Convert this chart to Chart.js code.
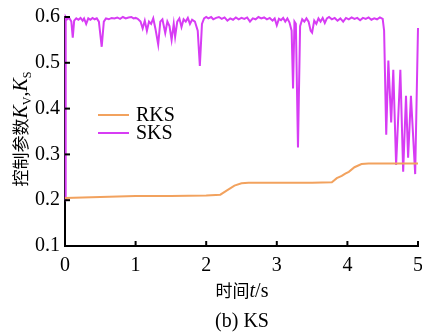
<!DOCTYPE html>
<html>
<head>
<meta charset="utf-8">
<script src="https://cdn.jsdelivr.net/npm/chart.js@4"></script>
<style>
  html, body { margin: 0; padding: 0; background: #fff; overflow: hidden; }
  #wrap { width: 432px; height: 332px; }
</style>
</head>
<body>
<div id="wrap"><canvas id="myChart"></canvas></div>
<script>
// values
const xTicks = [0, 1, 2, 3, 4, 5];
const yTicks = [0.1, 0.2, 0.3, 0.4, 0.5, 0.6];

const rksTime = [0, 0.5, 1, 1.5, 2, 2.2, 2.3, 2.4, 2.5, 2.6, 3.0, 3.5, 3.78, 3.85, 3.92, 3.97, 4.02, 4.1, 4.2, 4.3, 5.0];
const rksVal  = [0.205, 0.207, 0.209, 0.209, 0.21, 0.212, 0.222, 0.232, 0.237, 0.238, 0.238, 0.238, 0.239, 0.248, 0.253, 0.258, 0.262, 0.272, 0.279, 0.28, 0.28];

const sksTime = [
  0, 0.01, 0.03, 0.06, 0.09, 0.11, 0.13, 0.16, 0.19, 0.22, 0.25, 0.27, 0.3, 0.33, 0.36, 0.39, 0.42, 0.45, 0.48, 0.52,
  0.55, 0.58, 0.62, 0.66, 0.7, 0.74, 0.78, 0.82, 0.86, 0.9, 0.94, 0.97, 1.0,
  1.03, 1.07, 1.1, 1.13, 1.16, 1.19, 1.22, 1.25, 1.28, 1.32, 1.35, 1.38, 1.42, 1.45, 1.48, 1.51, 1.54, 1.56, 1.59,
  1.62, 1.65, 1.68, 1.71, 1.74, 1.77, 1.8, 1.84, 1.88, 1.91, 1.94, 1.97, 2.0,
  2.03, 2.07, 2.1, 2.14, 2.18, 2.22, 2.26, 2.3, 2.34, 2.38, 2.42, 2.46, 2.5, 2.54, 2.58, 2.62, 2.66, 2.7, 2.74,
  2.78, 2.82, 2.86, 2.9, 2.94, 2.97, 3.0, 3.03,
  3.06, 3.09, 3.12, 3.15, 3.18, 3.21, 3.23, 3.25, 3.27, 3.3, 3.33, 3.36, 3.39, 3.42, 3.45, 3.48, 3.5, 3.53, 3.56,
  3.59, 3.62, 3.65, 3.68, 3.71, 3.74, 3.78, 3.82, 3.86, 3.9, 3.94, 3.98, 4.02, 4.06, 4.1, 4.14, 4.18, 4.22, 4.26,
  4.3, 4.34, 4.38, 4.42, 4.46, 4.5, 4.52, 4.55, 4.58, 4.62, 4.65, 4.69, 4.75, 4.79, 4.83, 4.86, 4.9, 4.96, 5.0
];
const sksVal = [
  0.2, 0.6, 0.595, 0.598, 0.59, 0.555, 0.592, 0.597, 0.594, 0.598, 0.592, 0.597, 0.585, 0.597, 0.594, 0.598, 0.595, 0.597, 0.59, 0.535,
  0.59, 0.597, 0.595, 0.598, 0.597, 0.599, 0.596, 0.6, 0.597, 0.599, 0.6, 0.597, 0.598,
  0.596, 0.59, 0.575, 0.592, 0.57, 0.59, 0.585, 0.597, 0.575, 0.54, 0.59, 0.595, 0.565, 0.59, 0.58, 0.55, 0.585, 0.557, 0.59,
  0.597, 0.578, 0.595, 0.59, 0.598, 0.585, 0.594, 0.59, 0.57, 0.493, 0.585, 0.597, 0.6,
  0.597, 0.6, 0.595, 0.598, 0.6, 0.596, 0.599, 0.592, 0.597, 0.594, 0.599, 0.595, 0.598, 0.596, 0.599, 0.59, 0.597, 0.595, 0.6,
  0.597, 0.599, 0.595, 0.598, 0.592, 0.597, 0.582, 0.596,
  0.593, 0.598, 0.59, 0.597, 0.588, 0.57, 0.444, 0.59, 0.585, 0.315, 0.58, 0.595, 0.59, 0.597, 0.59, 0.57, 0.566, 0.592, 0.585,
  0.597, 0.59, 0.598, 0.587, 0.597, 0.6, 0.595, 0.598, 0.592, 0.597, 0.59, 0.598, 0.595, 0.599, 0.596, 0.598, 0.593, 0.598, 0.596,
  0.599, 0.594, 0.597, 0.595, 0.599, 0.596, 0.57, 0.343, 0.505, 0.37, 0.485, 0.277, 0.485, 0.262, 0.428, 0.293, 0.428, 0.257, 0.576
];

const serif = '"Liberation Serif", "Times New Roman", serif';
const cjk = '"Noto Sans CJK SC", sans-serif';

function pairs(t, v) {
  return t.map((x, i) => ({ x: x, y: v[i] }));
}

// draws a run of text pieces with their own fonts, centred on (0,0) of the current transform
function drawRich(ctx, parts, baseline) {
  let total = 0;
  parts.forEach(p => { ctx.font = p.font; total += ctx.measureText(p.text).width; });
  let x = -total / 2;
  parts.forEach(p => {
    ctx.font = p.font;
    ctx.fillText(p.text, x, baseline + (p.dy || 0));
    x += ctx.measureText(p.text).width;
  });
}

const extras = {
  id: 'extras',
  afterDraw(chart) {
    const ctx = chart.ctx;
    const xs = chart.scales.x, ys = chart.scales.y;
    ctx.save();
    // inward ticks
    ctx.strokeStyle = '#000';
    ctx.lineWidth = 2;
    xTicks.forEach(v => {
      const px = xs.getPixelForValue(v);
      ctx.beginPath(); ctx.moveTo(px, ys.bottom); ctx.lineTo(px, ys.bottom - 5); ctx.stroke();
    });
    yTicks.forEach(v => {
      const py = ys.getPixelForValue(v);
      ctx.beginPath(); ctx.moveTo(xs.left, py); ctx.lineTo(xs.left + 5, py); ctx.stroke();
    });

    // legend inside the plot
    ctx.fillStyle = '#000';
    ctx.textBaseline = 'middle';
    chart.data.datasets.forEach((ds, i) => {
      const y = 115 + i * 18;
      ctx.strokeStyle = ds.borderColor;
      ctx.lineWidth = 2;
      ctx.beginPath(); ctx.moveTo(98, y); ctx.lineTo(129, y); ctx.stroke();
      ctx.font = '20px ' + serif;
      ctx.fillText(ds.label, 136, y + 1);
    });

    // axis titles and caption
    ctx.textBaseline = 'alphabetic';
    ctx.save();
    ctx.translate(242, 0);
    drawRich(ctx, [
      { text: '时间', font: '17px ' + cjk },
      { text: 't', font: 'italic 20px ' + serif },
      { text: '/s', font: '20px ' + serif }
    ], 297);
    drawRich(ctx, [{ text: '(b) KS', font: '20px ' + serif }], 327);
    ctx.restore();

    ctx.save();
    ctx.translate(27, 129);
    ctx.rotate(-Math.PI / 2);
    drawRich(ctx, [
      { text: '控制参数', font: '17px ' + cjk },
      { text: 'K', font: 'italic 20px ' + serif },
      { text: 'V', font: '12px ' + serif, dy: 4 },
      { text: ',', font: '20px ' + serif },
      { text: 'K', font: 'italic 20px ' + serif },
      { text: 'S', font: '12px ' + serif, dy: 4 }
    ], 0);
    ctx.restore();
    ctx.restore();
  }
};

const ctx1 = document.getElementById('myChart');
new Chart(ctx1, {
  type: 'line',
  data: {
    datasets: [
      {
        label: 'RKS',
        data: pairs(rksTime, rksVal),
        borderColor: '#f2a25e',
        borderWidth: 2,
        pointRadius: 0,
        fill: false,
        clip: false
      },
      {
        label: 'SKS',
        data: pairs(sksTime, sksVal),
        borderColor: '#d73cf4',
        borderWidth: 2,
        pointRadius: 0,
        fill: false,
        clip: false
      }
    ]
  },
  options: {
    animation: false,
    responsive: true,
    maintainAspectRatio: false,
    layout: { padding: { top: 12, right: 14, left: 0, bottom: 0 } },
    plugins: { legend: { display: false }, tooltip: { enabled: false } },
    scales: {
      x: {
        type: 'linear',
        min: 0, max: 5,
        afterBuildTicks: s => { s.ticks = xTicks.map(v => ({ value: v })); },
        afterFit: s => { s.height = 86; },
        grid: { drawOnChartArea: false, drawTicks: false },
        border: { color: '#000', width: 2 },
        ticks: { color: '#000', padding: 8, maxRotation: 0, font: { family: serif, size: 20 } }
      },
      y: {
        min: 0.1, max: 0.6,
        afterBuildTicks: s => { s.ticks = yTicks.map(v => ({ value: v })); },
        afterFit: s => { s.width = 65; },
        grid: { drawOnChartArea: false, drawTicks: false },
        border: { color: '#000', width: 2 },
        ticks: { color: '#000', padding: 5, font: { family: serif, size: 20 }, callback: v => v.toFixed(1) }
      }
    }
  },
  plugins: [extras]
});
</script>
</body>
</html>
